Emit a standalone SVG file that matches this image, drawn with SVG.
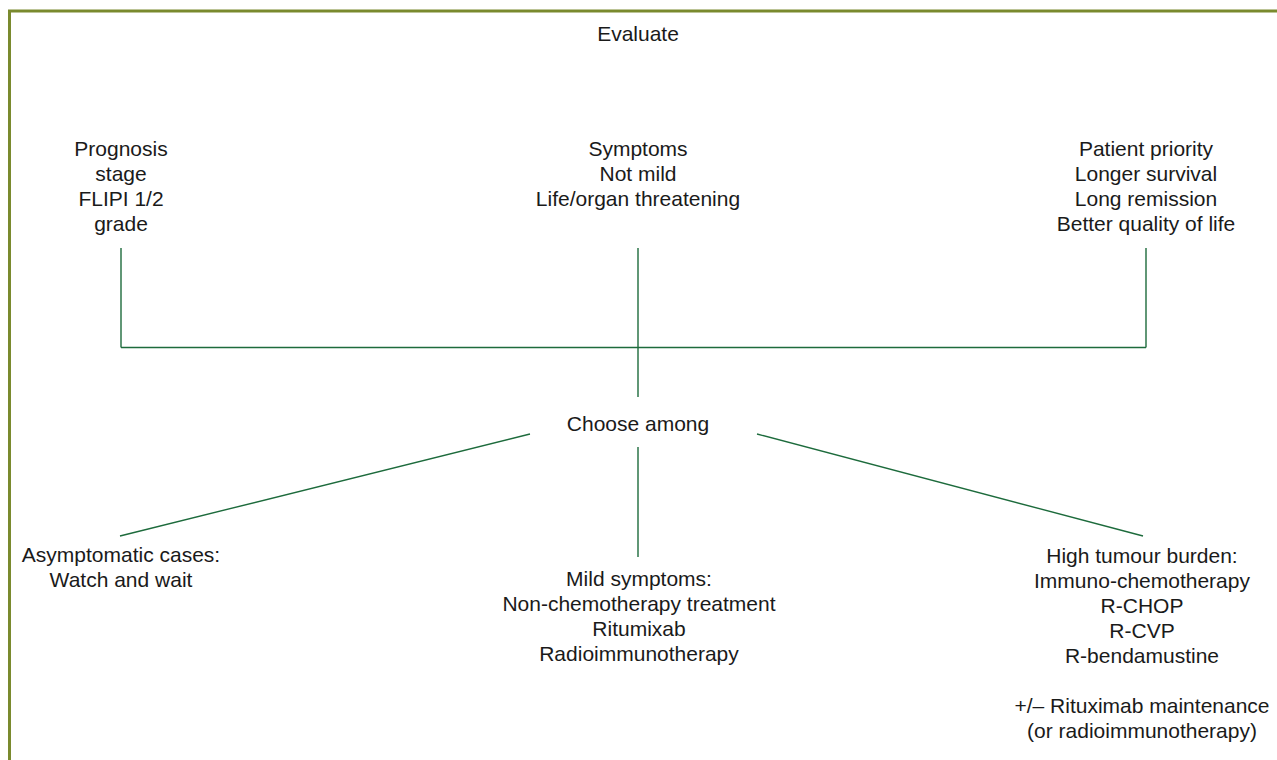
<svg xmlns="http://www.w3.org/2000/svg" width="1277" height="760" viewBox="0 0 1277 760">
<style>
text{font-family:"Liberation Sans",Arial,sans-serif;font-size:21px;fill:#1a1a1a;text-anchor:middle}
.c line{stroke:#1d6b3c;stroke-width:1.4;fill:none}
.frame{stroke:#7a8a2e;stroke-width:3;fill:none}
</style>
<rect width="1277" height="760" fill="#fff"/>
<path class="frame" d="M9.5 760 V11 H1277"/>
<g class="c" id="connectors">
<line x1="121" y1="248" x2="121" y2="347.5"/>
<line x1="638" y1="248" x2="638" y2="397"/>
<line x1="1146" y1="248" x2="1146" y2="347.5"/>
<line x1="121" y1="347.5" x2="1146" y2="347.5"/>
<line x1="530" y1="434" x2="120" y2="536"/>
<line x1="638" y1="447" x2="638" y2="557"/>
<line x1="757" y1="434" x2="1143" y2="536"/>
</g>
<g id="evaluate"><text x="638" y="40.5">Evaluate</text></g>
<g id="prognosis">
<text x="121" y="156">Prognosis</text>
<text x="121" y="181">stage</text>
<text x="121" y="206">FLIPI 1/2</text>
<text x="121" y="231">grade</text>
</g>
<g id="symptoms">
<text x="638" y="156">Symptoms</text>
<text x="638" y="181">Not mild</text>
<text x="638" y="206">Life/organ threatening</text>
</g>
<g id="priority">
<text x="1146" y="156">Patient priority</text>
<text x="1146" y="181">Longer survival</text>
<text x="1146" y="206">Long remission</text>
<text x="1146" y="231">Better quality of life</text>
</g>
<g id="choose"><text x="638" y="430.5">Choose among</text></g>
<g id="asymptomatic">
<text x="121" y="562">Asymptomatic cases:</text>
<text x="121" y="587">Watch and wait</text>
</g>
<g id="mild">
<text x="639" y="586">Mild symptoms:</text>
<text x="639" y="611">Non-chemotherapy treatment</text>
<text x="639" y="636">Ritumixab</text>
<text x="639" y="661">Radioimmunotherapy</text>
</g>
<g id="high">
<text x="1142" y="563">High tumour burden:</text>
<text x="1142" y="588">Immuno-chemotherapy</text>
<text x="1142" y="613">R-CHOP</text>
<text x="1142" y="638">R-CVP</text>
<text x="1142" y="663">R-bendamustine</text>
<text x="1142" y="713">+/– Rituximab maintenance</text>
<text x="1142" y="738">(or radioimmunotherapy)</text>
</g>
</svg>
